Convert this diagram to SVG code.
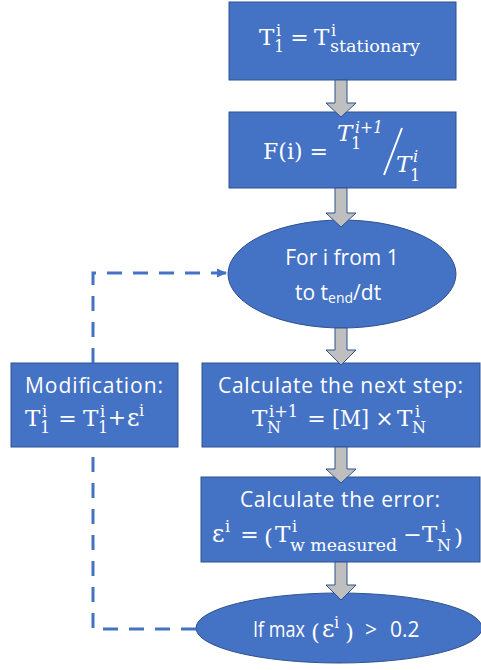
<svg xmlns="http://www.w3.org/2000/svg" width="481" height="670" viewBox="0 0 481 670">
<defs>
<style>
.box{fill:#4472C4;stroke:#2F528F;stroke-width:1}
.arr{fill:#BFBFBF;stroke:#2F528F;stroke-width:1}
.t{font-family:"Open Sans","Liberation Sans",sans-serif;font-size:21px;fill:#fff}
.m{font-family:"DejaVu Serif","Liberation Serif",serif;font-size:23px;fill:#fff}
.o{font-family:"DejaVu Serif","Liberation Serif",serif;font-size:22px;fill:#fff;text-anchor:middle}
.e{font-size:24px}
.s{font-size:16px}
.i{font-style:italic}
.dash{fill:none;stroke:#4472C4;stroke-width:3;stroke-dasharray:15 11}
</style>
<marker id="ah" markerUnits="userSpaceOnUse" markerWidth="11" markerHeight="10" refX="10" refY="5" orient="auto">
<path d="M0,0.5 L10,5 L0,9.5 Z" fill="#4472C4"/>
</marker>
</defs>
<rect width="481" height="670" fill="#fff"/>

<g id="init">
<rect class="box" x="229" y="2" width="227" height="78"/>
<text class="m" x="259" y="45">T</text>
<text class="m s" x="276" y="36">i</text>
<text class="m s" x="274" y="52">1</text>
<text class="o" x="299.5" y="45">=</text>
<text class="m" x="314" y="45">T</text>
<text class="m s" x="331" y="36">i</text>
<text class="m s" x="330" y="52" textLength="90" lengthAdjust="spacingAndGlyphs">stationary</text>
</g>

<g id="ratio">
<rect class="box" x="229" y="112" width="227" height="76"/>
<text class="m" x="263" y="159" textLength="65" lengthAdjust="spacingAndGlyphs">F(i) =</text>
<text class="m i" x="337" y="141">T</text>
<text class="m s i" x="355" y="133" textLength="28" lengthAdjust="spacingAndGlyphs">i+1</text>
<text class="m s" x="351" y="149">1</text>
<line x1="384" y1="175" x2="402" y2="128" stroke="#fff" stroke-width="2"/>
<text class="m i" x="396" y="172">T</text>
<text class="m s i" x="413" y="162">i</text>
<text class="m s" x="410" y="181">1</text>
</g>

<g id="loop">
<ellipse class="box" cx="342" cy="274" rx="114" ry="54"/>
<text class="t" x="342" y="265" text-anchor="middle">For i from 1</text>
<text class="t" x="295" y="300">to t<tspan font-size="14" dy="3">end</tspan><tspan dy="-3">/dt</tspan></text>
</g>

<g id="modification">
<rect class="box" x="11" y="363" width="167" height="84"/>
<text class="t" x="25" y="393" textLength="138">Modification:</text>
<text class="m" x="25" y="426">T</text>
<text class="m s" x="42" y="417">i</text>
<text class="m s" x="40" y="433">1</text>
<text class="o" x="67.5" y="426">=</text>
<text class="m" x="83" y="426">T</text>
<text class="m s" x="100" y="417">i</text>
<text class="m s" x="98" y="433">1</text>
<text class="o" x="117" y="425" font-size="19">+</text>
<text class="m e" x="127" y="426">ε</text>
<text class="m s" x="139" y="416">i</text>
</g>

<g id="nextstep">
<rect class="box" x="202" y="363" width="278" height="84"/>
<text class="t" x="218" y="393" textLength="245">Calculate the next step:</text>
<text class="m" x="252" y="426">T</text>
<text class="m s" x="269" y="417" textLength="29" lengthAdjust="spacingAndGlyphs">i+1</text>
<text class="m s" x="267" y="433">N</text>
<text class="o" x="316.5" y="426">=</text>
<text class="m" x="332" y="426" textLength="37" lengthAdjust="spacingAndGlyphs">[M]</text>
<text class="o" x="384.5" y="426">×</text>
<text class="m" x="397" y="426">T</text>
<text class="m s" x="415" y="417">i</text>
<text class="m s" x="412" y="433">N</text>
</g>

<g id="error">
<rect class="box" x="201" y="477" width="279" height="85"/>
<text class="t" x="240" y="507" textLength="200">Calculate the error:</text>
<text class="m e" x="212" y="542">ε</text>
<text class="m s" x="225" y="532">i</text>
<text class="o" x="249.5" y="542">=</text>
<text class="m" x="264" y="545" font-size="30">(</text>
<text class="m" x="275" y="542">T</text>
<text class="m s" x="292" y="532">i</text>
<text class="m s" x="290" y="551" textLength="107" lengthAdjust="spacingAndGlyphs">w measured</text>
<text class="o" x="412.5" y="542">−</text>
<text class="m" x="422" y="542">T</text>
<text class="m s" x="441" y="532">i</text>
<text class="m s" x="437" y="551">N</text>
<text class="m" x="454" y="545" font-size="30">)</text>
</g>

<g id="check">
<ellipse class="box" cx="339" cy="628" rx="143" ry="35"/>
<text class="t" x="253" y="637" textLength="52" lengthAdjust="spacingAndGlyphs">If max</text>
<text class="m" x="311" y="640" font-size="28">(</text>
<text class="m e" x="322" y="637">ε</text>
<text class="m s" x="334" y="628">i</text>
<text class="m" x="345" y="640" font-size="28">)</text>
<text class="t" x="365" y="637">&gt;</text>
<text class="t" x="390" y="637" font-size="22">0.2</text>
</g>

<g id="connectors">
<path class="dash" d="M196,629 H93 V447"/>
<path class="dash" d="M93,363 V273 H227" marker-end="url(#ah)"/>
<path class="arr" d="M335,80 H347 V103 H356 L341,117 L326,103 H335 Z"/>
<path class="arr" d="M335,188 H347 V213 H356 L341,227 L326,213 H335 Z"/>
<path class="arr" d="M335,328 H347 V350 H356 L341,365 L326,350 H335 Z"/>
<path class="arr" d="M335,447 H347 V469 H356 L341,483 L326,469 H335 Z"/>
<path class="arr" d="M335,562 H347 V585 H356 L341,600 L326,585 H335 Z"/>
</g>
</svg>
